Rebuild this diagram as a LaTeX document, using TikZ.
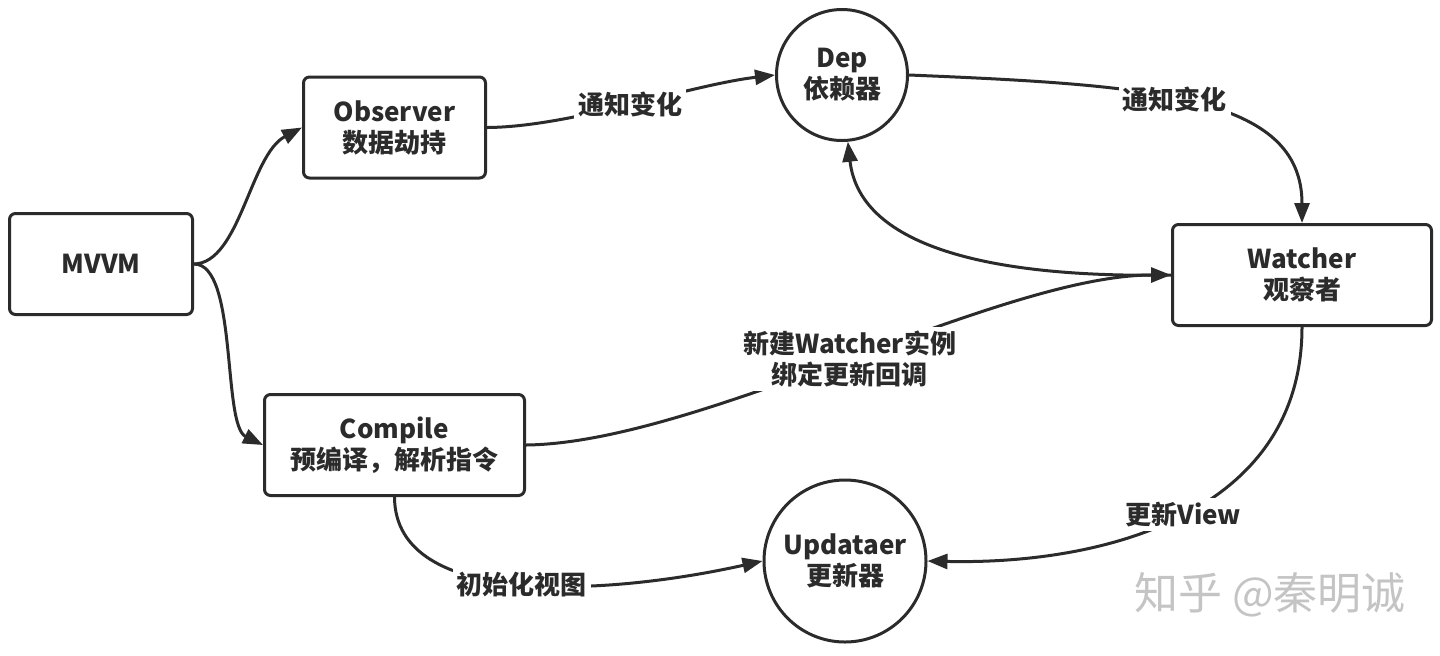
\documentclass[tikz,border=0pt]{standalone}
\usepackage{fontspec}
\setmainfont{Noto Sans CJK SC}
\usetikzlibrary{arrows.meta}
\definecolor{ink}{HTML}{2B2B2B}
\definecolor{wmgray}{HTML}{C4C4C4}

\begin{document}
\begin{tikzpicture}[x=0.5pt,y=-0.5pt,
  font=\fontsize{13}{15.5}\selectfont\bfseries, text=ink, draw=ink, line width=1.5pt,
  box/.style={draw,rounded corners=3pt,align=center,minimum height=50.5pt},
  ring/.style={draw,circle,align=center,inner sep=0pt},
  lbl/.style={fill=white,inner sep=2pt,align=center},
  >={Triangle[length=10pt,width=7.5pt]}]
\useasboundingbox (0,0) rectangle (1440,655);

\node[box,minimum width=91.5pt] (mvvm) at (101,264) {MVVM};
\node[box,minimum width=91pt] (obs) at (394.5,127.5) {Observer\\数据劫持};
\node[box,minimum width=130pt] (comp) at (394.5,445) {Compile\\预编译，解析指令};
\node[box,minimum width=129.5pt] (wat) at (1302,275) {Watcher\\观察者};
\node[ring,minimum size=65.5pt] (dep) at (842,75) {Dep\\依赖器};
\node[ring,minimum size=81pt] (upd) at (845,561) {Updataer\\更新器};
\node[text=wmgray,font=\fontsize{22}{22}\selectfont] (zhihu) at (1270,595) {知乎 @秦明诚};

\draw[->] (mvvm.east) .. controls (240,263) and (250,155) .. (obs.west);
\draw[->] (mvvm.east) .. controls (238,264) and (222,425) .. (comp.west);
\draw[->] (obs.east) .. controls (570,127) and (690,85) .. (dep.west) node[lbl,midway] {通知变化};
\draw[->] (dep.east) .. controls (1150,85) and (1302,95) .. (wat.north) node[lbl,pos=0.45] {通知变化};
\draw[->] (wat.west) .. controls (1000,278) and (860,250) .. (dep.-85);
\draw[->] (comp.east) .. controls (700,443) and (1000,275) .. (wat.west) node[lbl,midway] {新建Watcher实例\\绑定更新回调};
\draw[->] (wat.south) .. controls (1302,510) and (1110,565) .. (upd.east) node[lbl,midway] {更新View};
\draw[->] (comp.south) .. controls (395,610) and (610,595) .. (upd.west) node[lbl,midway] {初始化视图};

\end{tikzpicture}
\end{document}
